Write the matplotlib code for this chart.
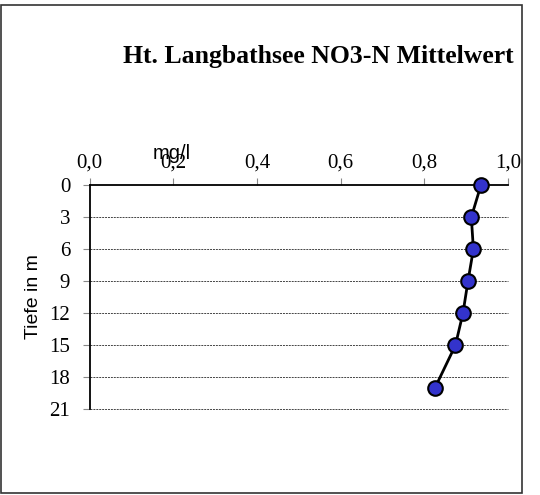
import matplotlib
matplotlib.use("Agg")
import matplotlib.pyplot as plt
from matplotlib.patches import Rectangle

# NO3-N mean per depth
tiefe = [0, 3, 6, 9, 12, 15, 19]
no3n = [0.935, 0.912, 0.917, 0.904, 0.892, 0.874, 0.825]
x_ticks = [0.0, 0.2, 0.4, 0.6, 0.8, 1.0]
y_ticks = [0, 3, 6, 9, 12, 15, 18, 21]

serif = "Liberation Serif"
sans = "Liberation Sans"

fig = plt.figure(figsize=(5.4, 4.95), dpi=100)
fig.patches.append(Rectangle((1 / 540, 2 / 495), 521 / 540, 488 / 495,
                             transform=fig.transFigure, fill=False,
                             edgecolor="#333333", linewidth=1.2))

ax = fig.add_axes([0.166, 0.173, 0.775, 0.453])
ax.plot(no3n, tiefe, color="black", linewidth=2.0, marker="o",
        markersize=10.5, markerfacecolor="#3333CC",
        markeredgecolor="black", markeredgewidth=1.5, zorder=5, clip_on=False)

ax.set_xlim(0, 1.0)
ax.set_ylim(21, 0)
ax.set_xticks(x_ticks)
ax.set_xticklabels([f"{v:.1f}".replace(".", ",") for v in x_ticks],
                   fontfamily=serif, fontsize=15)
ax.set_yticks(y_ticks)
ax.set_yticklabels([str(v) for v in y_ticks], fontfamily=serif, fontsize=15)
ax.xaxis.tick_top()
ax.tick_params(axis="x", direction="out", length=5, width=0.8,
               color="#888888", pad=4)
ax.tick_params(axis="y", direction="out", length=5, width=0.8,
               color="#888888", pad=9)

for s in ["right", "bottom"]:
    ax.spines[s].set_visible(False)
ax.spines["left"].set_linewidth(1.3)
ax.spines["top"].set_linewidth(1.3)

for y in y_ticks[1:]:
    ax.axhline(y, color="#444444", linewidth=0.7, linestyle=(0, (2, 1)),
               zorder=1, clip_on=False)

fig.text(0.589, 0.885, "Ht. Langbathsee NO3-N Mittelwert", fontfamily=serif,
         fontsize=18.5, fontweight="bold", ha="center", va="center")
fig.text(0.318, 0.69, "mg/l", fontfamily=sans, fontsize=14.5,
         ha="center", va="center")
fig.text(0.062, 0.4, "Tiefe in m", fontfamily=sans, fontsize=14,
         ha="center", va="center", rotation=90)

fig.savefig("out.png", dpi=100)
